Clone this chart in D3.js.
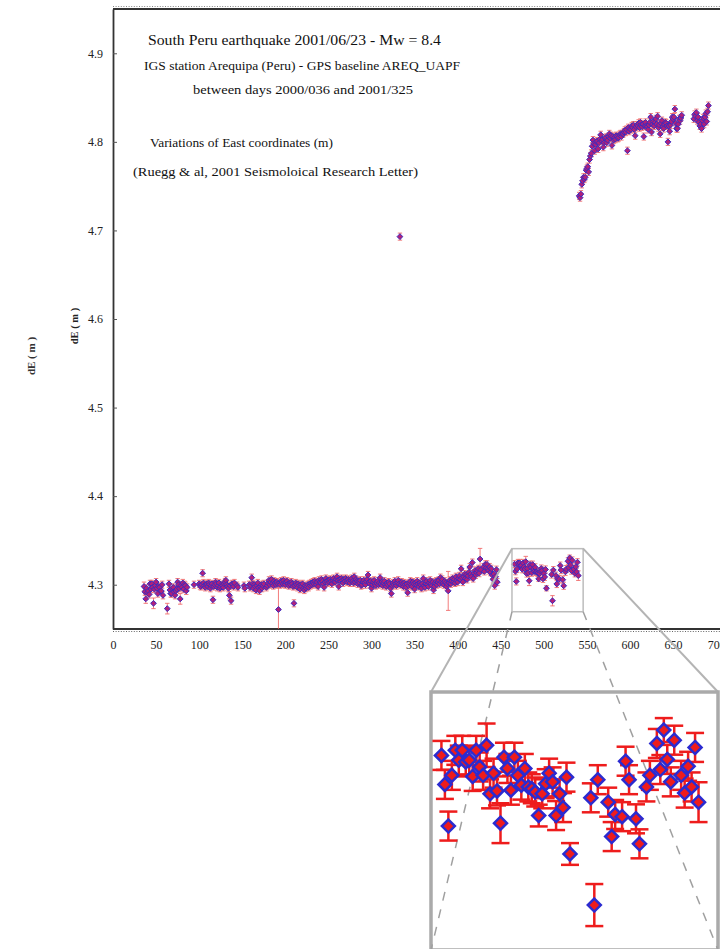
<!DOCTYPE html>
<html><head><meta charset="utf-8">
<script src="https://cdn.jsdelivr.net/npm/d3@7"></script>
<style>body{margin:0;background:#fff;overflow:hidden}</style>
</head><body>
<svg id="c" width="720" height="949"></svg>
<script>
// Daily East-coordinate solutions dE (m), day 36 (2000/036) .. day 691 (2001/325); null = no solution
const startDay = 36;
const dE = [
/*036*/4.298,4.292,4.284,4.296,4.291,4.293,4.289,4.301,4.295,4.301,
/*046*/4.297,4.279,4.295,4.299,4.303,4.296,4.290,4.298,4.297,4.293,
/*056*/4.293,4.300,4.288,null,null,null,null,4.273,null,4.301,
/*066*/4.294,4.290,4.290,4.296,4.297,4.292,4.288,4.293,4.295,4.303,
/*076*/4.300,4.296,4.284,4.299,4.297,4.302,4.295,4.300,4.299,4.293,
/*086*/4.297,null,null,null,null,null,null,null,4.300,null,
/*096*/null,null,null,null,4.301,4.299,4.298,4.300,4.313,4.302,
/*106*/4.299,4.297,4.300,4.301,4.298,4.302,4.300,4.296,4.299,4.301,
/*116*/4.283,4.298,4.300,4.303,4.301,4.297,4.299,4.302,4.296,4.298,
/*126*/4.300,4.299,4.297,4.301,4.303,4.305,4.300,4.298,4.296,4.288,
/*136*/4.299,4.282,4.301,4.300,4.298,4.302,null,null,4.299,4.297,
/*146*/null,null,null,null,null,null,4.299,4.296,null,null,
/*156*/null,null,4.300,4.297,4.299,4.308,4.301,4.296,4.300,4.298,
/*166*/4.294,4.299,4.302,4.297,4.293,4.298,4.300,4.296,4.299,4.301,
/*176*/null,null,4.297,4.299,4.302,4.305,4.300,4.303,4.306,4.301,
/*186*/4.299,4.304,4.302,4.300,4.303,4.301,4.272,4.302,4.300,4.304,
/*196*/4.303,4.301,4.305,4.302,4.300,4.303,4.304,4.301,4.299,4.302,
/*206*/4.300,4.303,4.301,4.298,4.279,4.299,4.302,4.300,4.297,4.301,
/*216*/4.299,4.295,4.300,4.298,4.301,4.296,4.294,4.299,4.296,4.298,
/*226*/4.300,4.297,4.301,4.299,4.302,4.300,4.303,4.301,4.304,4.302,
/*236*/4.300,4.303,4.298,4.305,4.303,4.302,4.306,4.304,4.301,4.297,
/*246*/4.303,4.307,4.304,4.302,4.305,4.303,4.306,4.304,4.301,4.305,
/*256*/4.307,4.304,4.303,4.306,4.309,4.305,4.298,4.306,4.304,4.307,
/*266*/4.305,4.302,4.306,4.304,4.307,4.305,4.303,4.306,4.304,4.302,
/*276*/4.305,4.307,4.304,4.302,4.309,4.303,4.306,4.304,4.301,4.304,
/*286*/4.302,4.305,4.299,4.300,4.303,4.305,4.302,4.300,4.304,4.306,
/*296*/4.311,4.303,4.301,4.304,4.296,4.300,4.303,4.305,4.301,4.299,
/*306*/4.302,4.304,4.300,4.302,4.308,4.301,4.303,4.299,4.302,4.304,
/*316*/4.300,4.298,4.302,4.300,4.303,4.301,4.296,4.290,4.299,4.302,
/*326*/4.300,4.304,4.301,4.299,4.302,4.305,4.301,4.693,4.300,4.303,
/*336*/4.301,4.298,4.302,4.300,4.297,4.301,4.291,4.299,4.302,4.304,
/*346*/4.300,4.298,4.303,4.301,4.295,4.302,4.300,4.304,4.301,4.298,
/*356*/4.302,4.300,4.296,4.301,4.307,4.299,4.297,4.301,4.304,4.300,
/*366*/4.298,4.302,4.305,4.301,4.299,4.303,4.294,4.298,4.302,4.304,
/*376*/4.300,4.303,4.305,4.301,4.308,4.303,4.306,4.302,4.300,4.304,
/*386*/4.302,4.298,4.301,4.293,4.302,4.305,4.301,4.304,4.307,4.303,
/*396*/4.306,4.302,4.309,4.305,4.303,4.307,4.310,4.306,4.318,4.308,
/*406*/4.303,4.309,4.312,4.307,4.311,4.306,4.310,4.314,4.320,4.312,
/*416*/4.309,4.325,4.307,4.313,4.316,4.311,4.314,4.316,4.318,4.313,
/*426*/4.329,4.317,null,null,4.320,4.315,4.323,4.319,4.323,4.318,
/*436*/4.316,4.320,4.314,4.318,4.311,4.306,4.312,4.299,4.309,4.317,
/*446*/4.303,null,null,null,null,null,null,null,null,null,
/*456*/null,null,null,null,null,null,null,null,null,null,
/*466*/4.3232,4.3152,4.3037,4.3177,4.3246,4.3219,4.3246,4.3214,4.3219,4.3174,
/*476*/4.3246,4.3200,4.3177,4.3260,4.3126,4.3183,4.3134,4.3045,4.3227,4.3196,
/*486*/4.3136,4.3227,4.3177,4.3150,4.3196,4.3145,4.3140,4.3131,4.3066,4.3126,
/*496*/4.3154,4.3183,4.3159,4.3066,4.3126,4.3088,4.3172,4.2960,null,null,
/*506*/null,null,null,4.3115,4.2819,4.3165,null,null,4.3103,4.3008,
/*516*/4.3069,null,4.3063,4.3216,4.3165,null,4.3057,4.2988,null,4.3145,
/*526*/4.3177,null,4.3265,4.3193,4.3302,4.3221,4.3159,4.3274,null,4.3177,
/*536*/4.3128,4.3202,4.3145,4.3254,4.3103,4.739,4.737,4.741,4.752,4.756,
/*546*/4.760,4.758,4.760,4.768,4.770,4.772,4.766,4.780,4.784,4.787,
/*556*/4.795,4.802,4.798,4.790,4.797,4.800,4.801,4.792,4.799,4.803,
/*566*/4.808,4.801,4.803,4.794,4.799,4.804,4.805,4.799,4.802,4.806,
/*576*/4.809,4.804,4.807,4.796,4.806,4.802,4.805,4.803,4.807,4.806,
/*586*/4.804,4.805,4.808,4.809,4.806,4.809,4.809,4.811,4.813,4.811,
/*596*/4.814,4.790,4.816,4.812,4.815,4.814,4.818,4.816,4.819,4.814,
/*606*/4.807,4.817,4.819,4.818,4.821,4.816,4.822,4.819,4.817,4.820,
/*616*/4.806,4.818,4.822,4.818,4.817,4.814,4.819,4.822,4.828,4.811,
/*626*/4.820,4.823,4.818,4.822,4.826,4.820,4.829,4.816,4.819,4.809,
/*636*/4.821,4.824,4.817,4.815,4.820,4.822,4.821,4.818,4.800,4.818,
/*646*/4.812,4.819,4.823,4.828,4.826,4.828,4.837,4.821,4.815,4.815,
/*656*/4.820,4.826,4.824,4.827,4.830,null,null,null,null,null,
/*666*/null,null,null,null,null,null,null,null,4.826,4.831,
/*676*/4.829,4.833,4.824,4.828,4.822,4.818,4.820,4.815,4.824,4.827,
/*686*/4.820,4.828,4.832,4.823,4.834,4.841
];
// formal errors (m)
const errDefault = 0.0040;
const errDays = [36, 38, 47, 63, 78, 192, 210, 389, 426, 479, 483, 494, 503, 510, 530, 540];
const errVals = [0.005, 0.005, 0.006, 0.006, 0.006, 0.027, 0.004, 0.022, 0.012, 0.006, 0.0055, 0.003, 0.003, 0.0058, 0.0033, 0.0055];

const xTicks = [0,50,100,150,200,250,300,350,400,450,500,550,600,650,700];
const yTicks = [4.3,4.4,4.5,4.6,4.7,4.8,4.9];
const zoomDays = [463, 545.6];
const zoomVals = [4.2695, 4.3407];

const titleLines = [
  "South Peru earthquake 2001/06/23 - Mw = 8.4",
  "IGS station Arequipa (Peru) - GPS baseline AREQ_UAPF",
  "between days 2000/036 and 2001/325",
  "Variations of East coordinates (m)",
  "(Ruegg & al, 2001 Seismoloical Research Letter)"
];

const errMap = new Map(errDays.map((d,i)=>[d, errVals[i]]));
const data = dE.map((v,i)=>({day:startDay+i, v, e: errMap.has(startDay+i)?errMap.get(startDay+i):errDefault}))
               .filter(d=>d.v!==null);

const svg = d3.select('#c');
const serif = "'Liberation Serif','DejaVu Serif',serif";
const x = d3.scaleLinear().domain([0,700]).range([113,716.2]);
const y = d3.scaleLinear().domain([4.25,4.95]).range([629,9]);

const defs = svg.append('defs');
defs.append('clipPath').attr('id','plotClip').append('rect').attr('x',113).attr('y',9).attr('width',607).attr('height',620);
defs.append('clipPath').attr('id','insetClip').append('rect').attr('x',431).attr('y',692).attr('width',287).attr('height',258);

const diamond = r => `M0,${-r}L${r},0L0,${r}L${-r},0Z`;

// --- axes
const yAxis = d3.axisLeft(y).tickValues(yTicks).tickFormat(d3.format('.1f')).tickSizeInner(-4).tickSizeOuter(0).tickPadding(10);
const gy = svg.append('g').attr('transform','translate(113,0)').call(yAxis);
gy.select('.domain').attr('stroke','#333').attr('stroke-width',1.8);
gy.selectAll('.tick line').attr('stroke','#555');
gy.selectAll('.tick text').attr('font-family',serif).attr('font-size',12).attr('fill','#222');

const xAxis = d3.axisBottom(x).tickValues(xTicks).tickSize(0).tickPadding(11);
const gx = svg.append('g').attr('transform','translate(0,629)').call(xAxis);
gx.select('.domain').remove();
gx.selectAll('.tick text').attr('font-family',serif).attr('font-size',12).attr('fill','#222');
svg.append('line').attr('x1',113).attr('x2',720).attr('y1',629).attr('y2',629).attr('stroke','#333').attr('stroke-width',1.8);
svg.append('line').attr('x1',113).attr('x2',720).attr('y1',631.5).attr('y2',631.5).attr('stroke','#666').attr('stroke-width',1.2).attr('stroke-dasharray','1,1.6');
svg.append('line').attr('x1',113).attr('x2',720).attr('y1',9).attr('y2',9).attr('stroke','#333').attr('stroke-width',1.8);
svg.append('line').attr('x1',113).attr('x2',720).attr('y1',6.5).attr('y2',6.5).attr('stroke','#888').attr('stroke-width',1).attr('stroke-dasharray','1,1.6');

// axis labels
svg.append('text').attr('transform','translate(78,326) rotate(-90)').attr('text-anchor','middle')
  .attr('font-family',serif).attr('font-size',10.5).attr('font-weight','bold').attr('fill','#222').text('dE ( m )');
svg.append('text').attr('transform','translate(35,356) rotate(-90)').attr('text-anchor','middle')
  .attr('font-family',serif).attr('font-size',11).attr('font-weight','bold').attr('fill','#333').text('dE ( m )');

// titles
const tpos = [[148,45,15,293],[144,70,12.5,316],[193,94,12.5,220],[150,147,11.5,183],[133,176,13,285]];
titleLines.forEach((t,i)=>{
  const [tx,ty,fs,tl] = tpos[i];
  svg.append('text').attr('x',tx).attr('y',ty).attr('font-family',serif).attr('font-size',fs)
    .attr('fill','#111').attr('textLength',tl).attr('lengthAdjust','spacingAndGlyphs').text(t);
});

// --- main data
const gm = svg.append('g').attr('clip-path','url(#plotClip)');
const eb = gm.append('g').attr('stroke','#ee5555').attr('stroke-width',0.9).attr('opacity',0.85);
data.forEach(d=>{
  const cx = x(d.day), y1 = y(d.v+d.e), y2 = y(d.v-d.e);
  eb.append('line').attr('x1',cx).attr('x2',cx).attr('y1',y1).attr('y2',y2);
  eb.append('line').attr('x1',cx-2.2).attr('x2',cx+2.2).attr('y1',y1).attr('y2',y1);
  eb.append('line').attr('x1',cx-2.2).attr('x2',cx+2.2).attr('y1',y2).attr('y2',y2);
});
gm.append('g').selectAll('path').data(data).join('path')
  .attr('d',diamond(2.9)).attr('transform',d=>`translate(${x(d.day)},${y(d.v)})`)
  .attr('fill','#b0207a').attr('stroke','#3b2bc0').attr('stroke-width',1);

// --- zoom rect and connectors
const zx0 = x(zoomDays[0]), zx1 = x(zoomDays[1]), zy0 = y(zoomVals[1]), zy1 = y(zoomVals[0]);
const xi = d3.scaleLinear().domain(zoomDays).range([431,718]);
const yi = d3.scaleLinear().domain(zoomVals).range([950,692]);
svg.append('rect').attr('x',zx0).attr('y',zy0).attr('width',zx1-zx0).attr('height',zy1-zy0)
  .attr('fill','none').attr('stroke','#bdbdbd').attr('stroke-width',1.5);
svg.append('line').attr('x1',zx0).attr('y1',zy0).attr('x2',431).attr('y2',692).attr('stroke','#b4b4b4').attr('stroke-width',2);
svg.append('line').attr('x1',zx1).attr('y1',zy0).attr('x2',718).attr('y2',692).attr('stroke','#b4b4b4').attr('stroke-width',2);
svg.append('rect').attr('x',431).attr('y',692).attr('width',287).attr('height',258)
  .attr('fill','#fff').attr('stroke','#aaa').attr('stroke-width',3.5);
svg.append('line').attr('x1',zx0).attr('y1',zy1).attr('x2',431).attr('y2',950).attr('stroke','#a0a0a0').attr('stroke-width',1.5).attr('stroke-dasharray','9,9');
svg.append('line').attr('x1',zx1).attr('y1',zy1).attr('x2',718).attr('y2',950).attr('stroke','#a0a0a0').attr('stroke-width',1.5).attr('stroke-dasharray','9,9');

// --- inset data
const inset = data.filter(d=>d.day>=zoomDays[0] && d.day<=zoomDays[1] && d.v>=zoomVals[0] && d.v<=zoomVals[1]);
const gi = svg.append('g').attr('clip-path','url(#insetClip)');
const ebi = gi.append('g').attr('stroke','#ee1c1c').attr('stroke-width',2.5);
inset.forEach(d=>{
  const cx = xi(d.day), y1 = yi(d.v+d.e), y2 = yi(d.v-d.e);
  ebi.append('line').attr('x1',cx).attr('x2',cx).attr('y1',y1).attr('y2',y2);
  ebi.append('line').attr('x1',cx-9).attr('x2',cx+9).attr('y1',y1).attr('y2',y1);
  ebi.append('line').attr('x1',cx-9).attr('x2',cx+9).attr('y1',y2).attr('y2',y2);
});
gi.append('g').selectAll('path').data(inset).join('path')
  .attr('d',diamond(6.5)).attr('transform',d=>`translate(${xi(d.day)},${yi(d.v)})`)
  .attr('fill','#ee1c1c').attr('stroke','#2b2bd0').attr('stroke-width',2.5);
</script>
</body></html>
